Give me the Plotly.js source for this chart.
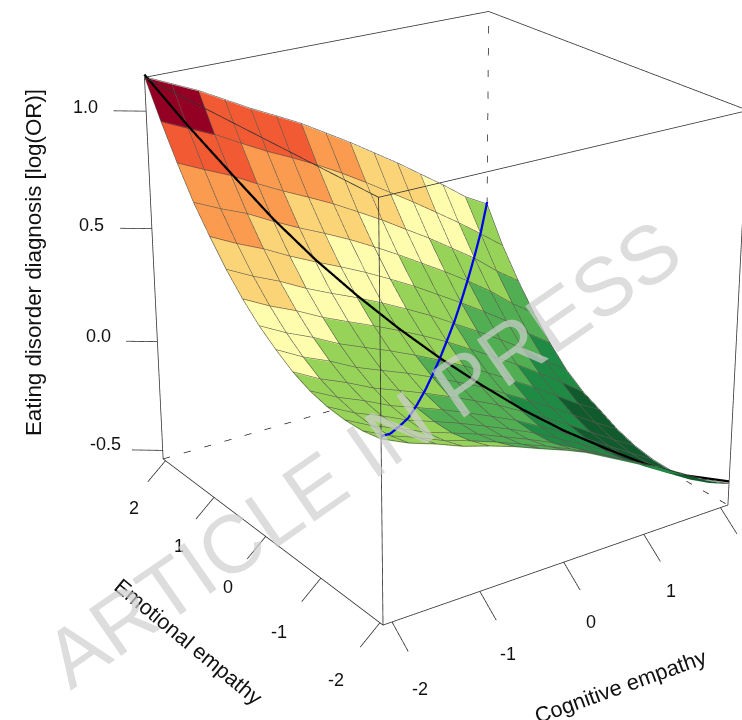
<!DOCTYPE html>
<html>
<head>
<meta charset="utf-8">
<script src="https://cdn.plot.ly/plotly-3.0.1.min.js"></script>
<style>
html,body{margin:0;padding:0;width:742px;height:720px;overflow:hidden;background:#fff}
#chart{position:absolute;left:-554px;top:-700px;width:1988px;height:1988px}
</style>
</head>
<body>
<div id="chart"></div>
<script>
// Grid values
const cognitive = [-2.1,-1.8,-1.5,-1.2,-0.9,-0.6,-0.3,0,0.3,0.6,0.9,1.2,1.5,1.8,2.1];
const emotional = [-2.05,-1.757,-1.464,-1.171,-0.879,-0.586,-0.293,0,0.293,0.586,0.879,1.171,1.464,1.757,2.05];
// logOR[i][j]: i = cognitive index, j = emotional index
const logOR = [
[0.22,0.204,0.201,0.208,0.227,0.26,0.308,0.364,0.434,0.517,0.615,0.72,0.849,0.988,1.14],
[0.17,0.151,0.144,0.15,0.169,0.2,0.247,0.305,0.376,0.46,0.559,0.668,0.797,0.937,1.09],
[0.133,0.111,0.101,0.106,0.123,0.153,0.199,0.256,0.327,0.411,0.51,0.622,0.748,0.887,1.04],
[0.09,0.065,0.052,0.055,0.07,0.099,0.142,0.199,0.27,0.353,0.452,0.563,0.688,0.827,0.98],
[0.058,0.031,0.016,0.017,0.03,0.057,0.098,0.153,0.222,0.303,0.4,0.509,0.632,0.769,0.92],
[0.022,-0.007,-0.022,-0.023,-0.011,0.014,0.055,0.108,0.175,0.256,0.351,0.459,0.58,0.717,0.866],
[-0.02,-0.05,-0.066,-0.068,-0.057,-0.033,0.007,0.059,0.125,0.205,0.299,0.406,0.526,0.662,0.81],
[-0.06,-0.092,-0.11,-0.114,-0.105,-0.082,-0.045,0.007,0.072,0.149,0.242,0.347,0.465,0.601,0.745],
[-0.105,-0.138,-0.158,-0.163,-0.155,-0.134,-0.098,-0.049,0.015,0.091,0.182,0.285,0.403,0.535,0.68],
[-0.16,-0.194,-0.215,-0.221,-0.214,-0.194,-0.159,-0.111,-0.049,0.026,0.116,0.219,0.335,0.466,0.61],
[-0.215,-0.25,-0.273,-0.28,-0.274,-0.255,-0.221,-0.174,-0.113,-0.039,0.05,0.153,0.268,0.397,0.54],
[-0.27,-0.307,-0.33,-0.339,-0.335,-0.317,-0.285,-0.239,-0.179,-0.107,-0.019,0.082,0.195,0.324,0.465],
[-0.335,-0.373,-0.397,-0.406,-0.402,-0.386,-0.354,-0.309,-0.25,-0.178,-0.092,0.007,0.122,0.25,0.39],
[-0.395,-0.434,-0.46,-0.47,-0.468,-0.453,-0.422,-0.379,-0.322,-0.265,-0.18,-0.08,0.035,0.171,0.31],
[-0.445,-0.49,-0.524,-0.534,-0.531,-0.515,-0.485,-0.441,-0.4,-0.34,-0.255,-0.155,-0.04,0.09,0.25]
];
const levelBreaks = [-0.345,-0.18,0.01,0.22,0.39,0.58,0.76,0.96];
const levelColors = ['#115A2E','#1F8A43','#52AE52','#97D259','#FEFDAE','#FCD478','#FB9B4F','#F15A33','#930024'];
const cogTicks = [-2,-1,0,1,2];
const emoTicks = [-2,-1,0,1,2];
const zTicks = [-0.5,0,0.5,1];
const cogLabels = ['-2','-1','0','1'];
const emoLabels = ['2','1','0','-1','-2'];
const zLabels = ['-0.5','0.0','0.5','1.0'];
const cogRange = [-2.1,2.1], emoRange = [-2.05,2.05], zRange = [-0.54,1.14];

const n = cognitive.length;
const vx=[],vy=[],vz=[],fi=[],fj=[],fk=[],fc=[];
for(let i=0;i<n;i++)for(let j=0;j<n;j++){vx.push(cognitive[i]);vy.push(emotional[j]);vz.push(logOR[i][j]);}
function levelOf(v){let k=0;while(k<levelBreaks.length&&v>levelBreaks[k])k++;return levelColors[k];}
for(let i=0;i<n-1;i++)for(let j=0;j<n-1;j++){
  const a=i*n+j,b=(i+1)*n+j,c=(i+1)*n+j+1,d=i*n+j+1;
  const col=levelOf((logOR[i][j]+logOR[i+1][j]+logOR[i+1][j+1]+logOR[i][j+1])/4);
  fi.push(a,a);fj.push(b,c);fk.push(c,d);fc.push(col,col);
}
const gx=[],gy=[],gz=[];
for(let i=0;i<n;i++){for(let j=0;j<n;j++){gx.push(cognitive[i]);gy.push(emotional[j]);gz.push(logOR[i][j]+0.003);}gx.push(null);gy.push(null);gz.push(null);}
for(let j=0;j<n;j++){for(let i=0;i<n;i++){gx.push(cognitive[i]);gy.push(emotional[j]);gz.push(logOR[i][j]+0.003);}gx.push(null);gy.push(null);gz.push(null);}

const [c0,c1]=cogRange,[e0,e1]=emoRange,[z0,z1]=zRange;
function seg(list){const x=[],y=[],z=[];list.forEach(s=>{x.push(s[0],s[3],null);y.push(s[1],s[4],null);z.push(s[2],s[5],null);});return {x,y,z};}
const solid=seg([
 [c0,e0,z0,c0,e1,z0],[c0,e0,z0,c1,e0,z0],[c0,e0,z0,c0,e0,z1],[c0,e1,z0,c0,e1,z1],[c1,e0,z0,c1,e0,z1],
 [c0,e0,z1,c0,e1,z1],[c0,e0,z1,c1,e0,z1],[c0,e1,z1,c1,e1,z1],[c1,e0,z1,c1,e1,z1]
]);
const dashed=seg([[c0,e1,z0,c1,e1,z0],[c1,e0,z0,c1,e1,z0],[c1,e1,z0,c1,e1,z1]]);
const tickSeg=[];
cogTicks.forEach(t=>tickSeg.push([t,e0,z0,t,e0-0.26,z0-0.074]));
emoTicks.forEach(t=>tickSeg.push([c0,t,z0,c0-0.22,t,z0-0.074]));
zTicks.forEach(t=>tickSeg.push([c0,e1,t,c0-0.26,e1+0.19,t]));
const ticks=seg(tickSeg);

const blackLine={x:[],y:[],z:[]},blueLine={x:[],y:[],z:[]};
for(let i=0;i<n;i++){
  blackLine.x.push(cognitive[i]);blackLine.y.push(emotional[n-1-i]);blackLine.z.push(logOR[i][n-1-i]+0.012);
  blueLine.x.push(cognitive[i]);blueLine.y.push(emotional[i]);blueLine.z.push(logOR[i][i]+0.012);
}
function line(d,color,width,dash){return {type:'scatter3d',mode:'lines',x:d.x,y:d.y,z:d.z,line:{color,width,dash:dash||'solid'},hoverinfo:'skip',showlegend:false};}
const traces=[
 {type:'mesh3d',x:vx,y:vy,z:vz,i:fi,j:fj,k:fk,facecolor:fc,flatshading:true,
  lighting:{ambient:1,diffuse:0,specular:0,fresnel:0,roughness:1},hoverinfo:'skip',showscale:false},
 line({x:gx,y:gy,z:gz},'#5a5a50',1.2),
 line(dashed,'#222222',1.5,'dash'),
 line(solid,'#333333',1.6),
 line(ticks,'#333333',1.6),
 line(blackLine,'#000000',4.5),
 line(blueLine,'#0000ee',4.5)
];
const OX=554,OY=700,S=1988;
function ann(text,px,py,size,angle,color){return {text,xref:'paper',yref:'paper',x:(px+OX)/S,y:1-(py+OY)/S,xanchor:'center',yanchor:'middle',showarrow:false,textangle:angle||0,
  font:{family:'"Liberation Sans",Arial,sans-serif',size,color:color||'#111111'}};}
const zPos=[[105,444],[98,336],[91,225],[85,107]];
const emoPos=[[134,508],[179,546],[228,587],[279,632],[336,680]];
const cogPos=[[420,689],[508,654],[591,622],[671,591]];
const annotations=[
 ...zLabels.map((t,i)=>ann(t,zPos[i][0],zPos[i][1],18)),
 ...emoLabels.map((t,i)=>ann(t,emoPos[i][0],emoPos[i][1],18)),
 ...cogLabels.map((t,i)=>ann(t,cogPos[i][0],cogPos[i][1],18)),
 ann('Eating disorder diagnosis [log(OR)]',33,263,22.3,-90),
 ann('Emotional empathy',188,642,21.5,39.6),
 ann('Cognitive empathy',620,686,21.8,-19.7),
 ann('ARTICLE IN PRESS',362,453,82,-34.8,'rgba(206,206,206,0.7)')
];
const hidden={visible:false};
const layout={width:S,height:S,margin:{l:0,r:0,t:0,b:0},paper_bgcolor:'#fff',showlegend:false,hovermode:false,annotations,
 scene:{domain:{x:[0,1],y:[0,1]},aspectmode:'manual',aspectratio:{x:1,y:1,z:1.0},
  xaxis:{...hidden,range:[-3.15,3.15]},yaxis:{...hidden,range:[-3.075,3.075]},zaxis:{...hidden,range:[-0.96,1.56]},
  bgcolor:'#fff',camera:{eye:{x:-2.014,y:-2.898,z:1.4546},center:{x:0,y:0,z:0},up:{x:0,y:0,z:1},projection:{type:'perspective'}}}};
Plotly.newPlot('chart',traces,layout,{displayModeBar:false,responsive:false});
</script>
</body>
</html>
